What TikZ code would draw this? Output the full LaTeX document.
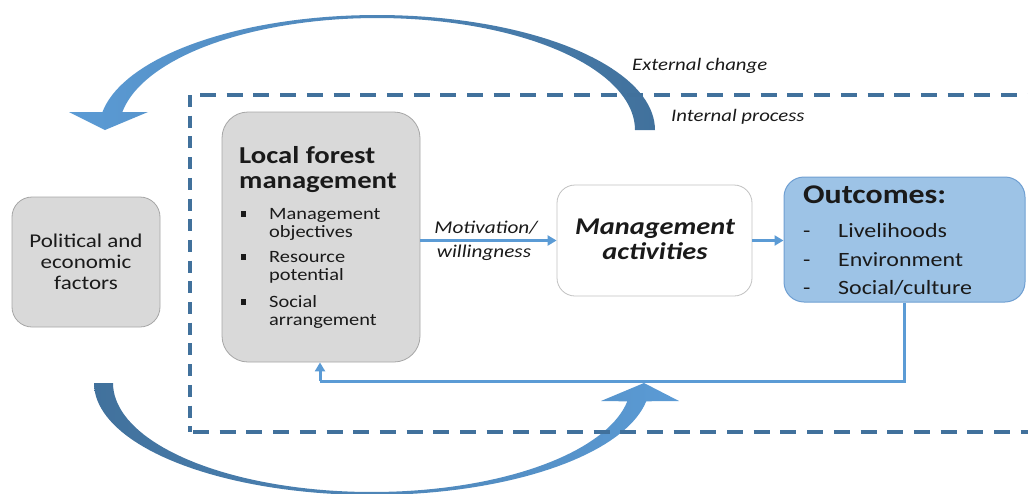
\documentclass[tikz,border=0pt]{standalone}
\usepackage{fontspec}
\setmainfont{Carlito}[FakeStretch=1.18]
\usetikzlibrary{arrows.meta}
\definecolor{arrowblue}{HTML}{5B9BD5}
\definecolor{darkblue}{HTML}{41719C}
\definecolor{dashblue}{HTML}{41719C}
\definecolor{boxgray}{HTML}{D9D9D9}
\definecolor{boxline}{HTML}{A6A6A6}
\definecolor{outfill}{HTML}{9DC3E6}
\definecolor{outborder}{HTML}{6F9FD2}
\definecolor{txt}{HTML}{1A1A1A}
\begin{document}
\begin{tikzpicture}[x=1pt,y=-1pt,
  graybox/.style={draw=boxline, line width=0.8pt, fill=boxgray, inner sep=0pt},
  whitebox/.style={draw=boxline!70, line width=0.8pt, fill=white, inner sep=0pt, rounded corners=18pt},
  bluebox/.style={draw=outborder, line width=1pt, fill=outfill, inner sep=0pt, rounded corners=20pt},
  flow/.style={draw=arrowblue, line width=3pt, -{Triangle[length=9pt,width=10pt]}},
  fbline/.style={draw=arrowblue, line width=3pt},
  ln/.style={anchor=base west, inner sep=0pt, text=txt},
  lnc/.style={anchor=base, inner sep=0pt, text=txt},
  dashline/.style={draw=dashblue, line width=3.3pt},
  bul/.style={anchor=base, inner sep=0pt, text=txt}
]
\useasboundingbox (0,0) rectangle (1028,493);
\clip (0,0) rectangle (1028,493);

% top curved arrow (external change)
\shade[left color=arrowblue, right color=darkblue]
  plot[domain=0:171, samples=80] ({377+278*cos(\x)},{130-115*sin(\x)})
  -- (69,112) -- (105,130) -- (148,112)
  -- plot[domain=170.75:0, samples=80] ({377+258*cos(\x)},{130-112*sin(\x)})
  -- cycle;

% bottom curved arrow
\shade[left color=darkblue, right color=arrowblue]
  plot[domain=180:350.6, samples=80] ({372+278*cos(\x)},{383-112*sin(\x)})
  -- (679,401) -- (644,383) -- (601,401)
  -- plot[domain=350.3:180, samples=80] ({372+259*cos(\x)},{383-109*sin(\x)})
  -- cycle;

% dashed frame (internal process)
\draw[dashline, dash pattern=on 16pt off 10.7pt] (200,95) -- (1040,95);
\draw[dashline, dash pattern=on 16pt off 10.7pt] (193,432) -- (1040,432);
\draw[dashline, dash pattern=on 12pt off 8.7pt] (190,95) -- (190,432);

% boxes
\node[graybox, rounded corners=20pt, minimum width=148pt, minimum height=130pt] (pol) at (86,262) {};
\node[graybox, rounded corners=26pt, minimum width=198pt, minimum height=250pt] (lfm) at (321,237) {};
\node[whitebox, minimum width=195pt, minimum height=111pt] (ma) at (654.5,240.5) {};
\node[bluebox, minimum width=241pt, minimum height=125pt] (out) at (904.5,239.5) {};

% connectors
\coordinate (fb) at (0,381);
\draw[flow] (lfm.east |- ma.west) -- (ma.west);
\draw[flow] (ma.east) -- (out.west |- ma.east);
\draw[fbline] (out.south) -- (out.south |- fb) -- ([xshift=-1pt]lfm.south |- fb);
\draw[flow] ([xshift=-1pt]lfm.south |- fb) -- ([xshift=-1pt]lfm.south);

% political text
\begin{scope}[every node/.append style={font=\fontsize{19.5}{21}\selectfont}]
\node[lnc] (p1) at (86,247) {Political and};
\node[lnc] (p2) at (86,268) {economic};
\node[lnc] (p3) at (86,289) {factors};
\end{scope}

% local forest management text
\begin{scope}[every node/.append style={font=\fontsize{24.3}{25}\selectfont\bfseries}]
\node[ln] (h1) at (239,163) {Local forest};
\node[ln] (h2) at (239,188) {management};
\end{scope}
\begin{scope}[every node/.append style={font=\fontsize{17.3}{18}\selectfont}]
\node[bul] (b1) at (243.5,219) {\rule[2.5pt]{5.5pt}{5.5pt}};
\node[bul] (b2) at (243.5,262) {\rule[2.5pt]{5.5pt}{5.5pt}};
\node[bul] (b3) at (243.5,307) {\rule[2.5pt]{5.5pt}{5.5pt}};
\node[ln] (i1) at (269,219) {Management};
\node[ln] (i2) at (269,237) {objectives};
\node[ln] (i3) at (269,262) {Resource};
\node[ln] (i4) at (269,280) {potential};
\node[ln] (i5) at (269,307) {Social};
\node[ln] (i6) at (269,325) {arrangement};
\end{scope}

% motivation label
\begin{scope}[every node/.append style={font=\fontsize{18}{18}\selectfont\itshape}]
\node[lnc] (m1) at (486,233) {Motivation/};
\node[lnc] (m2) at (484,257) {willingness};
\end{scope}
\begin{scope}[every node/.append style={font=\fontsize{17.6}{18}\selectfont\itshape}]
\node[ln] (ext) at (632,70) {External change};
\node[ln] (int) at (671,121) {Internal process};
\end{scope}

% management activities
\begin{scope}[every node/.append style={font=\fontsize{24}{25}\selectfont\bfseries\itshape}]
\node[lnc] (a1) at (655,234) {Management};
\node[lnc] (a2) at (655,259) {activities};
\end{scope}

% outcomes
\node[ln, font=\fontsize{27}{30}\selectfont\bfseries] (oh) at (803,203) {Outcomes:};
\begin{scope}[every node/.append style={font=\fontsize{20.3}{28}\selectfont}]
\node[ln] (d1) at (803,237) {-};
\node[ln] (d2) at (803,266) {-};
\node[ln] (d3) at (803,294) {-};
\node[ln] (o1) at (838,237) {Livelihoods};
\node[ln] (o2) at (838,266) {Environment};
\node[ln] (o3) at (838,294) {Social/culture};
\end{scope}
\end{tikzpicture}
\end{document}
